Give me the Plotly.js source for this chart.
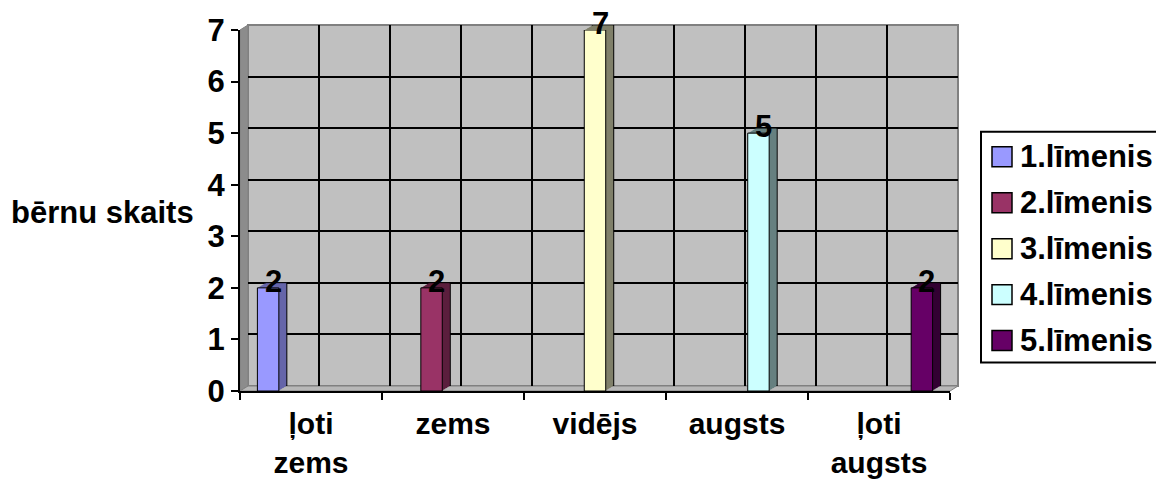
<!DOCTYPE html>
<html>
<head>
<meta charset="utf-8">
<script src="https://cdn.plot.ly/plotly-3.0.1.min.js"></script>
<style>html,body{margin:0;padding:0;background:#fff;}#chart{width:1156px;height:479px;}</style>
</head>
<body>
<div id="chart"></div>
<script>
// ---- data ----
const categories = ['ļoti zems', 'zems', 'vidējs', 'augsts', 'ļoti augsts'];
const tickLabels = ['ļoti<br>zems', 'zems', 'vidējs', 'augsts', 'ļoti<br>augsts'];
const seriesNames = ['1.līmenis', '2.līmenis', '3.līmenis', '4.līmenis', '5.līmenis'];
const level1 = [2, null, null, null, null];
const level2 = [null, 2, null, null, null];
const level3 = [null, null, 7, null, null];
const level4 = [null, null, null, 5, null];
const level5 = [null, null, null, null, 2];
const yTicks = [0, 1, 2, 3, 4, 5, 6, 7];
const yTitle = 'bērnu skaits';

// ---- styles ----
const frontColors = ['#9999FF', '#993366', '#FFFFCC', '#CCFFFF', '#660066'];
const sideColors = ['#6666AA', '#5C1F3D', '#80806A', '#668080', '#330033'];
const FONT = 'Liberation Sans, Arial, sans-serif';
const FS = 31;

const series = [level1, level2, level3, level4, level5];

const W = 1156, H = 479;
const M = {l: 240, r: 198, t: 25, b: 87.5, pad: 0};
const PW = W - M.l - M.r, PH = H - M.t - M.b;
const FW = 710, FH = 361.5, DX = 8, DY = 5, N = 8;
const BARGAP = 0.245;
const bw = (1 - BARGAP) / series.length;

function dom(k) {
  const ox = DX * k / N, oy = DY * k / N;
  return {x: [ox / PW, (FW + ox) / PW], y: [oy / PH, (FH + oy) / PH]};
}
const xp = px => (px - M.l) / PW;
const yp = py => (H - M.b - py) / PH;
const idOf = k => 2 + (N - k);
const boldFont = (sz) => ({family: FONT, size: sz || FS, color: '#000', weight: 'bold'});

const traces = [];
const layout = {
  width: W, height: H, margin: M,
  paper_bgcolor: '#fff', plot_bgcolor: 'rgba(0,0,0,0)',
  barmode: 'group', bargap: BARGAP, bargroupgap: 0,
  showlegend: false,
  font: boldFont(),
  shapes: [], annotations: []
};

// grid axes (back wall)
const back = dom(N);
layout.xaxis = {domain: back.x, range: [0, 10], tickmode: 'array', tickvals: [1,2,3,4,5,6,7,8,9],
  showgrid: true, gridcolor: '#000', gridwidth: 2, showticklabels: false, ticks: '',
  zeroline: false, showline: false, fixedrange: true, anchor: 'y'};
layout.yaxis = {domain: back.y, range: [0, 7], tickmode: 'array', tickvals: [1,2,3,4,5,6],
  showgrid: true, gridcolor: '#000', gridwidth: 2, showticklabels: false, ticks: '',
  zeroline: false, showline: false, fixedrange: true, anchor: 'x'};
traces.push({type: 'scatter', x: [null], y: [null], xaxis: 'x', yaxis: 'y', hoverinfo: 'skip', showlegend: false});

// bar layers, back to front
for (let k = N; k >= 0; k--) {
  const id = idOf(k);
  const d = dom(k);
  const front = (k === 0);
  layout['xaxis' + id] = front ? {
    type: 'category', domain: d.x, range: [-0.5, 4.5], anchor: 'y' + id,
    tickmode: 'array', tickvals: categories, ticktext: tickLabels, tickson: 'boundaries',
    showline: true, linecolor: '#000', linewidth: 2, ticks: 'outside', ticklen: 7, tickwidth: 2, tickcolor: '#000',
    showgrid: false, zeroline: false, fixedrange: true, ticklabelstandoff: 5,
    tickfont: boldFont(30)
  } : {type: 'category', domain: d.x, range: [-0.5, 4.5], anchor: 'y' + id, visible: false, fixedrange: true};
  layout['yaxis' + id] = front ? {
    domain: d.y, range: [0, 7], anchor: 'x' + id, tickmode: 'array', tickvals: yTicks,
    showline: true, linecolor: '#000', linewidth: 2, ticks: 'outside', ticklen: 7, tickwidth: 2, tickcolor: '#000',
    showgrid: false, zeroline: false, fixedrange: true,
    tickfont: boldFont()
  } : {domain: d.y, range: [0, 7], anchor: 'x' + id, visible: false, fixedrange: true};
  series.forEach((vals, s) => {
    traces.push({
      type: 'bar', x: categories, y: vals, name: seriesNames[s],
      xaxis: 'x' + id, yaxis: 'y' + id, hoverinfo: 'skip', showlegend: false,
      marker: {color: front ? frontColors[s] : sideColors[s],
               line: {color: '#000', width: (front || k === N) ? 1 : 0}}
    });
  });
}

// walls and floor
const f = dom(0);
layout.shapes.push({type: 'rect', xref: 'paper', yref: 'paper', layer: 'below',
  x0: back.x[0], x1: back.x[1], y0: back.y[0], y1: back.y[1],
  fillcolor: '#C0C0C0', line: {color: '#808080', width: 2}});
layout.shapes.push({type: 'path', xref: 'paper', yref: 'paper', layer: 'below',
  path: `M${f.x[0]},${f.y[0]} L${f.x[0]},${f.y[1]} L${back.x[0]},${back.y[1]} L${back.x[0]},${back.y[0]} Z`,
  fillcolor: '#8C8C8C', line: {color: '#808080', width: 1}});
layout.shapes.push({type: 'path', xref: 'paper', yref: 'paper', layer: 'below',
  path: `M${f.x[0]},${f.y[0]} L${f.x[1]},${f.y[0]} L${back.x[1]},${back.y[0]} L${back.x[0]},${back.y[0]} Z`,
  fillcolor: '#B8B8B8', line: {color: '#808080', width: 1}});

// data labels
const midId = idOf(N / 2);
series.forEach((vals, s) => {
  vals.forEach((v, i) => {
    if (v === null) return;
    layout.annotations.push({xref: 'x' + midId, yref: 'y' + midId,
      x: i + (s - (series.length - 1) / 2) * bw, y: v, text: String(v),
      showarrow: false, xanchor: 'center', yanchor: 'middle', xshift: 1, yshift: 4,
      font: boldFont()});
  });
});

// y title
layout.annotations.push({xref: 'paper', yref: 'paper', x: xp(102.5), y: yp(213), text: yTitle,
  showarrow: false, xanchor: 'center', yanchor: 'middle', font: boldFont()});

// legend (manual)
layout.shapes.push({type: 'rect', xref: 'paper', yref: 'paper', layer: 'above',
  x0: xp(981), x1: xp(1180), y0: yp(363), y1: yp(132), fillcolor: '#fff', line: {color: '#000', width: 2}});
seriesNames.forEach((name, s) => {
  const cy = 157 + 46 * s;
  layout.shapes.push({type: 'rect', xref: 'paper', yref: 'paper', layer: 'above',
    x0: xp(992), x1: xp(1012), y0: yp(cy + 10), y1: yp(cy - 10),
    fillcolor: frontColors[s], line: {color: '#000', width: 1.5}});
  layout.annotations.push({xref: 'paper', yref: 'paper', x: xp(1018), y: yp(cy), text: name,
    showarrow: false, xanchor: 'left', yanchor: 'middle', font: boldFont()});
});

Plotly.newPlot('chart', traces, layout, {displayModeBar: false, staticPlot: true});
</script>
</body>
</html>
